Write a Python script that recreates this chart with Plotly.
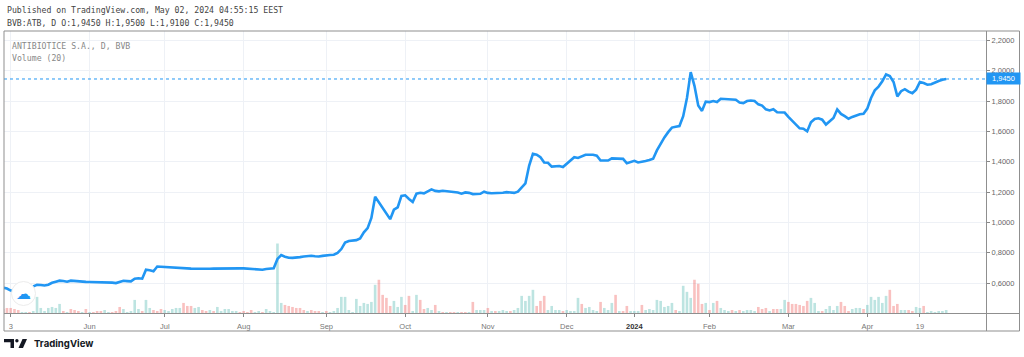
import pandas as pd
import plotly.graph_objects as go

# ---------------- data ----------------
HOLIDAYS = ['2023-05-01', '2023-06-01', '2023-06-05', '2023-08-15', '2023-11-30',
            '2023-12-01', '2023-12-25', '2023-12-26', '2024-01-01', '2024-01-02',
            '2024-01-24']
DATES = [d.strftime('%Y-%m-%d') for d in pd.bdate_range('2023-04-28', '2024-04-30')
         if d.strftime('%Y-%m-%d') not in HOLIDAYS]

CLOSE = [
    0.570, 0.565, 0.552, 0.548, 0.550, 0.555, 0.560, 0.565, 0.579, 0.590,
    0.588, 0.585, 0.590, 0.603, 0.610, 0.617, 0.615, 0.610, 0.617, 0.614,
    0.612, 0.610, 0.609, 0.608, 0.608, 0.607, 0.608, 0.607, 0.608, 0.604,
    0.601, 0.610, 0.616, 0.614, 0.612, 0.630, 0.633, 0.630, 0.689, 0.685,
    0.679, 0.710, 0.708, 0.707, 0.706, 0.704, 0.702, 0.700, 0.697, 0.695,
    0.696, 0.695, 0.694, 0.695, 0.696, 0.695, 0.696, 0.697, 0.698, 0.699,
    0.700, 0.700, 0.699, 0.698, 0.698, 0.697, 0.695, 0.692, 0.693, 0.689,
    0.694, 0.697, 0.698, 0.760, 0.785, 0.775, 0.768, 0.767, 0.772, 0.772,
    0.776, 0.779, 0.781, 0.778, 0.776, 0.780, 0.785, 0.786, 0.788, 0.800,
    0.825, 0.868, 0.878, 0.880, 0.884, 0.895, 0.935, 0.963, 1.030, 1.170,
    1.135, 1.100, 1.065, 1.022, 1.084, 1.100, 1.175, 1.179, 1.155, 1.135,
    1.190, 1.196, 1.192, 1.205, 1.218, 1.208, 1.205, 1.209, 1.206, 1.200,
    1.200, 1.198, 1.190, 1.198, 1.195, 1.187, 1.188, 1.189, 1.203, 1.195,
    1.193, 1.193, 1.195, 1.196, 1.200, 1.196, 1.195, 1.203, 1.232, 1.258,
    1.375, 1.452, 1.447, 1.430, 1.395, 1.393, 1.368, 1.368, 1.372, 1.365,
    1.388, 1.410, 1.430, 1.425, 1.438, 1.446, 1.446, 1.446, 1.440, 1.408,
    1.408, 1.408, 1.422, 1.420, 1.420, 1.419, 1.390, 1.398, 1.406, 1.395,
    1.398, 1.405, 1.412, 1.420, 1.475, 1.520, 1.560, 1.595, 1.625, 1.630,
    1.635, 1.700, 1.820, 1.990, 1.900, 1.770, 1.735, 1.796, 1.793, 1.800,
    1.793, 1.815, 1.813, 1.812, 1.812, 1.808, 1.790, 1.786, 1.800, 1.803,
    1.800, 1.778, 1.770, 1.745, 1.738, 1.746, 1.726, 1.724, 1.724, 1.695,
    1.668, 1.643, 1.620, 1.617, 1.600, 1.660, 1.682, 1.686, 1.677, 1.645,
    1.665, 1.688, 1.745, 1.715, 1.700, 1.683, 1.695, 1.705, 1.713, 1.716,
    1.750, 1.820, 1.870, 1.895, 1.930, 1.975, 1.965, 1.925, 1.830, 1.865,
    1.878, 1.862, 1.851, 1.875, 1.925, 1.918, 1.907, 1.910, 1.922, 1.932,
    1.940, 1.945,
]

# volume in units of 10k shares
VOLUME = [
    4, 5, 5, 4, 3, 1, 1, 1, 2, 16,
    5, 2, 5, 6, 5, 9, 2, 1, 4, 3,
    2, 1, 4, 1, 1, 2, 2, 3, 1, 1,
    2, 6, 4, 1, 2, 13, 4, 2, 13, 5,
    3, 2, 4, 3, 2, 4, 5, 5, 10, 7,
    7, 5, 6, 3, 2, 3, 2, 6, 2, 4,
    4, 2, 2, 1, 2, 1, 3, 1, 2, 1,
    4, 2, 1, 69, 10, 8, 7, 6, 5, 5,
    3, 2, 3, 2, 2, 1, 2, 1, 2, 5,
    16, 16, 3, 1, 14, 7, 10, 9, 11, 28,
    33, 18, 15, 7, 12, 6, 16, 8, 17, 2,
    18, 13, 4, 5, 3, 8, 2, 1, 1, 1,
    1, 1, 1, 1, 1, 11, 3, 3, 3, 5,
    2, 2, 2, 3, 2, 2, 3, 5, 17, 12,
    17, 23, 7, 12, 17, 3, 7, 3, 3, 2,
    3, 2, 2, 15, 9, 5, 6, 3, 2, 11,
    5, 3, 10, 18, 2, 2, 7, 2, 2, 2,
    8, 3, 4, 3, 13, 12, 6, 7, 10, 3,
    2, 27, 21, 15, 33, 29, 9, 10, 3, 10,
    12, 5, 3, 2, 3, 2, 3, 2, 3, 3,
    2, 6, 4, 5, 2, 4, 4, 4, 13, 11,
    9, 9, 8, 7, 12, 15, 10, 2, 2, 4,
    7, 3, 7, 11, 7, 2, 4, 5, 5, 4,
    8, 16, 13, 16, 10, 17, 23, 7, 9, 3,
    3, 3, 2, 6, 5, 7, 1, 2, 1, 2,
    2, 3,
]

# G = up bar, R = down bar
DIRECTION = ("RRRRRGGRGG" "GGGGGGRGRR" "RGRGRRRGGR" "RRGGGGGRGG" "RRRGGGGGRR"
             "RGGRRGRGGG" "GGGRRRRGGR" "GGGGGRRRRR" "RGRRRGRGGG" "GGGGGGGGGG"
             "RRRRGGGRRG" "GRRGGRGRGR" "RGRRGRGGGR" "GRGGGRGGGG" "GGRRRGGGGR"
             "GGGGRGGGGR" "GGGRGRRGGG" "RGGGGGGGGR" "GGGGRRRGRG" "RGGGRGRGGG"
             "GRRRGRRGGR" "RRRRRGGGRG" "GGGRRRGGGR" "GGGGGGRRRG" "GRRGGRGGGG"
             "GG")

TICK_DATES = ['2023-05-03', '2023-06-02', '2023-07-03', '2023-08-01', '2023-09-01',
              '2023-10-02', '2023-11-01', '2023-12-04', '2024-01-03', '2024-02-01',
              '2024-03-01', '2024-04-01', '2024-04-19']
TICK_TEXT = ['3', 'Jun', 'Jul', 'Aug', 'Sep', 'Oct', 'Nov', 'Dec',
             '<b><span style="color:#333">2024</span></b>', 'Feb', 'Mar', 'Apr', '19']
PRICE_TICKS = [0.6, 0.8, 1.0, 1.2, 1.4, 1.6, 1.8, 2.0, 2.2]

TITLE = 'Published on TradingView.com, May 02, 2024 04:55:15 EEST'
OHLC = 'BVB:ATB, D O:1,9450 H:1,9500 L:1,9100 C:1,9450'
SYMBOL = 'ANTIBIOTICE S.A., D, BVB'
VOL_LABEL = 'Volume (20)'

# ---------------- layout constants ----------------
W, H = 1024, 357
L, T, R_EDGE, B_EDGE = 4, 31, 986, 313
PW, PH = R_EDGE - L, B_EDGE - T


def px(x):
    return (x - L) / PW


def py(y):
    return 1 - (y - T) / PH


BLUE = '#2196f3'
UP = 'rgba(38,166,154,0.30)'
DOWN = 'rgba(239,83,80,0.36)'
vol_colors = [UP if c == 'G' else DOWN for c in DIRECTION]

fig = go.Figure()
fig.add_trace(go.Bar(x=DATES, y=VOLUME, marker=dict(color=vol_colors, line=dict(width=0)),
                     yaxis='y', showlegend=False, hoverinfo='skip'))
fig.add_trace(go.Scatter(x=DATES, y=CLOSE, mode='lines', yaxis='y2',
                         line=dict(color=BLUE, width=2.6), showlegend=False))

first = DATES.index('2023-05-03')
x_range = [first - 1.79, first + 259.6]

fig.update_layout(
    width=W, height=H, autosize=False,
    margin=dict(l=L, r=W - R_EDGE, t=T, b=H - B_EDGE, pad=0),
    paper_bgcolor='white', plot_bgcolor='white',
    separators=', ',
    bargap=0.3,
    xaxis=dict(type='category', categoryorder='array', categoryarray=DATES,
               range=x_range, tickmode='array', tickvals=TICK_DATES, ticktext=TICK_TEXT,
               ticks='outside', ticklen=3, tickcolor='#888', showgrid=True,
               gridcolor='#eef1f6', gridwidth=1, showline=False, zeroline=False,
               tickfont=dict(family='Liberation Sans', size=7.5, color='#777'),
               ticklabelstandoff=3),
    yaxis=dict(range=[0, max(VOLUME) * PH / 69.5], visible=False, showgrid=False,
               fixedrange=True),
    yaxis2=dict(overlaying='y', side='right', range=[0.404, 2.261],
                tickmode='array', tickvals=PRICE_TICKS, tickformat='.4f',
                ticks='outside', ticklen=3, tickcolor='#888', showgrid=True,
                gridcolor='#eef1f6', gridwidth=1, zeroline=False, showline=False,
                tickfont=dict(family='Liberation Sans', size=7.5, color='#666')),
)

shapes = []
# last price dotted line
shapes.append(dict(type='line', xref='paper', yref='y2', x0=0, x1=1,
                   y0=CLOSE[-1], y1=CLOSE[-1], line=dict(color=BLUE, width=1, dash='dot'),
                   layer='above'))
# frame
frame_col = '#8f8f8f'
shapes.append(dict(type='rect', xref='paper', yref='paper', x0=px(4), x1=px(1019.5),
                   y0=py(31), y1=py(331), line=dict(color=frame_col, width=1)))
shapes.append(dict(type='line', xref='paper', yref='paper', x0=px(986.5), x1=px(986.5),
                   y0=py(31), y1=py(331), line=dict(color=frame_col, width=1)))
shapes.append(dict(type='line', xref='paper', yref='paper', x0=px(4), x1=px(1019.5),
                   y0=py(313.5), y1=py(313.5), line=dict(color=frame_col, width=1)))
# watermark circle
shapes.append(dict(type='circle', xref='paper', yref='paper', x0=px(11.5), x1=px(35.5),
                   y0=py(281.5), y1=py(305.5), fillcolor='white',
                   line=dict(color='#ececec', width=1), layer='above'))
# TradingView logo glyph
logo = '#131722'
shapes.append(dict(type='path', xref='paper', yref='paper', fillcolor=logo, line=dict(width=0),
                   path=(f'M {px(4)} {py(339)} L {px(14)} {py(339)} L {px(14)} {py(348)} '
                         f'L {px(10.5)} {py(348)} L {px(10.5)} {py(342.3)} L {px(4)} {py(342.3)} Z')))
shapes.append(dict(type='circle', xref='paper', yref='paper', fillcolor=logo, line=dict(width=0),
                   x0=px(15.2), x1=px(18.6), y0=py(339), y1=py(342.4)))
shapes.append(dict(type='path', xref='paper', yref='paper', fillcolor=logo, line=dict(width=0),
                   path=(f'M {px(22.5)} {py(339)} L {px(27)} {py(339)} L {px(23)} {py(348)} '
                         f'L {px(18.5)} {py(348)} Z')))
fig.update_layout(shapes=shapes)

mono = 'DejaVu Sans Mono'
ann = []
ann.append(dict(xref='paper', yref='paper', x=px(5), y=py(10), xanchor='left', yanchor='middle',
                text=TITLE, showarrow=False, font=dict(family=mono, size=8.2, color='#444')))
ann.append(dict(xref='paper', yref='paper', x=px(5), y=py(23), xanchor='left', yanchor='middle',
                text=OHLC, showarrow=False, font=dict(family=mono, size=8.2, color='#444')))
ann.append(dict(xref='paper', yref='paper', x=px(10), y=py(46), xanchor='left', yanchor='middle',
                text=SYMBOL, showarrow=False, font=dict(family=mono, size=8.2, color='#888')))
ann.append(dict(xref='paper', yref='paper', x=px(10), y=py(58), xanchor='left', yanchor='middle',
                text=VOL_LABEL, showarrow=False, font=dict(family=mono, size=8.2, color='#888')))
# last price label
ann.append(dict(xref='paper', yref='y2', x=1, y=CLOSE[-1], xanchor='left', yanchor='middle',
                text=f'{CLOSE[-1]:.4f}'.replace('.', ','), showarrow=False,
                bgcolor=BLUE, borderpad=1, width=31, height=9, align='center',
                font=dict(family='Liberation Sans', size=7.5, color='white')))
# watermark cloud
ann.append(dict(xref='paper', yref='paper', x=px(23.5), y=py(293.5), xanchor='center',
                yanchor='middle', text='☁', showarrow=False,
                font=dict(family='DejaVu Sans', size=15, color=BLUE)))
# brand text
ann.append(dict(xref='paper', yref='paper', x=px(32), y=py(343.5), xanchor='left',
                yanchor='middle', text='<b>TradingView</b>', showarrow=False,
                font=dict(family='Inter', size=9.6, color=logo)))
fig.update_layout(annotations=ann)

fig.write_html('out.html', config={'displayModeBar': False},
               post_script="document.body.style.margin='0';"
                           "document.body.style.overflow='hidden';")
